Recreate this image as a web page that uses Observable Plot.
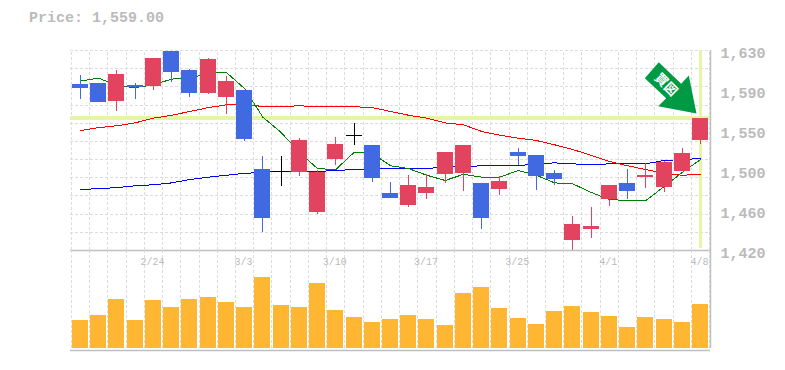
<!DOCTYPE html>
<html><head><meta charset="utf-8">
<script src="https://cdn.jsdelivr.net/npm/d3@7"></script>
<script src="https://cdn.jsdelivr.net/npm/@observablehq/plot@0.6"></script>
<style>
html,body{margin:0;padding:0;background:#fff;width:785px;height:370px;overflow:hidden}
#wrap{position:relative;width:785px;height:370px}
#title{position:absolute;left:29px;top:10px;font:bold 15px "Liberation Mono",monospace;color:#bbb;white-space:pre}
#top,#bot{position:absolute;left:0}
#top{top:0}#bot{top:250px}
svg{background:transparent!important;overflow:visible}
</style></head><body>
<div id="wrap"><div id="title">Price: 1,559.00</div><div id="top"></div><div id="bot"></div></div>
<script>
const lastPrice = 1559;
const open  = [1594,1595,1576,1593,1592,1629,1609,1585,1581,1588,1505,1503,1502,1460,1515.5,1541,1530,1480,1467,1480,1500,1501,1490,1484,1523,1520,1501,1430.5,1442,1473.5,1490,1497,1486,1503,1535.5];
const close = [1590,1575,1605,1591,1622,1607,1585,1620.5,1597,1536.5,1453.6,1503,1535.5,1502,1531,1541,1495.6,1474.6,1488,1486,1523,1530,1453.6,1492.5,1518.7,1498,1494.5,1447,1445,1488,1482,1499,1512,1522,1559];
const high  = [1604,1595,1609,1595,1622,1629,1610,1622,1603,1588,1519,1519,1537.6,1504,1538.6,1553,1530,1491,1499,1500,1523,1530,1490,1498,1527,1520,1504,1456,1465,1488,1505,1511,1513.5,1527,1559];
const low   = [1578.5,1575,1566,1578.5,1588,1596,1581,1584,1563,1534.5,1439,1487,1498,1458,1509,1530,1491,1474.6,1465,1473.5,1490,1482,1442,1478,1509,1483,1488,1419,1432.6,1466,1473.5,1485,1481,1503,1531];
const kind  = ["d","d","u","d","u","d","d","u","u","d","d","f","u","u","u","f","d","d","u","u","u","u","d","u","d","d","d","u","u","u","d","u","u","u","u"];
const ma5   = [1598,1601,1593,1591,1594,1600,1601,1606,1607,1590,1560,1544,1523,1506,1505,1523,1522,1509,1506,1499,1493.5,1500,1497,1497,1504,1499,1491,1490,1481,1473.5,1472.5,1472.5,1487,1502,1515.5];
const ma25  = [1546,1549,1551,1554,1559,1562,1566,1570,1573,1574,1571,1571,1572,1571,1571,1571,1570,1566,1562,1559,1554,1552,1545,1541,1538,1535.5,1531,1526,1520,1513.5,1509,1505,1501,1499,1500];
const ma75  = [1484,1485,1486,1488,1489,1491,1494.5,1497,1499,1501,1502,1503,1503,1503,1504,1505,1506,1506,1506,1506,1508,1508,1509,1509,1509,1511,1512,1511,1510,1511,1511,1511,1514.5,1515.5,1516.6];
const volume = [8400,9900,14700,8400,14400,12300,14700,15300,13800,12300,21300,12900,12300,19500,11400,9300,7800,8700,9900,8700,6900,16500,18300,12000,9000,7200,11100,12600,10800,9600,6300,9300,8700,7800,13200];
const dateIndex = [4,9,14,19,24,29,34];
const dateLabel = ["2/24","3/3","3/10","3/17","3/25","4/1","4/8"];
const priceTicks = [1420,1462,1504,1546,1588,1630];
const priceTickLabels = ["1,420","1,460","1,500","1,550","1,590","1,630"];

const idx = d3.range(open.length);
const halfW = 0.4387;
const C = {up:"#e2435f",down:"#4169e1",flat:"#000000",grid:"#dcdcdc",axis:"#c0c0c0",text:"#bbbbbb",lime:"#e5f5a5",vol:"#ffb733",arrow:"#009944"};
const colorOf = i => kind[i]==="u"?C.up:kind[i]==="d"?C.down:C.flat;
const xScale = {type:"linear",domain:[-0.548,34.548],range:[70,710]};
const font = '"Liberation Mono",monospace';
const vGrid = d3.range(36).map(i=>i-0.5);
const hGrid = d3.range(12).map(k=>1420+k*210/11);
const dash = "3,2";
const crisp = {shapeRendering:"crispEdges"};

// block arrow, anchored at its tip (pixels relative to the anchor)
const arrowSymbol = {draw(c){
  c.moveTo(0,0);c.lineTo(-38.3,-7.3);c.lineTo(-30.3,-15.3);c.lineTo(-51.7,-35.3);c.lineTo(-37.7,-51.3);c.lineTo(-15.3,-29.7);c.lineTo(-7.7,-38);c.closePath();
}};

const topPlot = Plot.plot({
  width:785,height:262,marginLeft:0,marginRight:0,marginTop:0,marginBottom:0,
  x:{...xScale,axis:null},
  y:{domain:[1420,1630],range:[250,50],axis:null},
  style:{fontFamily:font,background:"transparent"},
  marks:[
    Plot.ruleX(vGrid,{x:d=>d,y1:1420,y2:1630,stroke:C.grid,strokeDasharray:dash,...crisp}),
    Plot.ruleY(hGrid,{y:d=>d,x1:-0.548,x2:34.548,stroke:C.grid,strokeDasharray:dash,...crisp}),
    Plot.ruleY([lastPrice],{x1:-0.548,x2:34.548,stroke:C.lime,strokeWidth:4,...crisp}),
    Plot.ruleX([34],{y1:1422,y2:1630,stroke:C.lime,strokeWidth:3,...crisp}),
    Plot.lineY(idx,{x:i=>i,y:i=>ma75[i],stroke:"#0000ff",strokeWidth:1,...crisp}),
    Plot.lineY(idx,{x:i=>i,y:i=>ma25[i],stroke:"#ff0000",strokeWidth:1,...crisp}),
    Plot.lineY(idx,{x:i=>i,y:i=>ma5[i],stroke:"#008000",strokeWidth:1,...crisp}),
    Plot.ruleX(idx,{x:i=>i,y1:i=>low[i],y2:i=>high[i],stroke:colorOf,strokeWidth:1,...crisp}),
    Plot.rect(idx.filter(i=>kind[i]!=="f"),{x1:i=>i-halfW,x2:i=>i+halfW,y1:i=>open[i],y2:i=>close[i],fill:colorOf,...crisp}),
    Plot.ruleY(idx.filter(i=>kind[i]==="f"),{y:i=>open[i],x1:i=>i-halfW,x2:i=>i+halfW,stroke:C.flat,strokeWidth:1,...crisp}),
    Plot.ruleY([1420],{x1:-0.548,x2:34.548,stroke:C.axis,strokeWidth:1.5}),
    Plot.ruleX([34.548],{y1:1420,y2:1630,stroke:C.axis,strokeWidth:1.5}),
    Plot.dot([0],{x:()=>33.78,y:()=>1563.85,symbol:arrowSymbol,r:1,fill:C.arrow,stroke:"none"}),
    Plot.text(["\u8CB7\u56F3"],{x:()=>32.1,y:()=>1594,text:d=>d,rotate:45,fill:"#fff",fontSize:13,fontWeight:"bold",fontFamily:'"Noto Sans CJK JP"'}),
    Plot.text(priceTicks,{x:()=>34.548,y:d=>d,text:(d,k)=>priceTickLabels[k],dx:10,dy:3,textAnchor:"start",fontSize:15,fontWeight:"bold",fill:C.text,fontFamily:font})
  ]
});
document.getElementById("top").append(topPlot);

const botPlot = Plot.plot({
  width:785,height:101,marginLeft:0,marginRight:0,marginTop:0,marginBottom:0,
  x:{...xScale,axis:null},
  y:{domain:[0,29400],range:[98,0],axis:null},
  style:{fontFamily:font,background:"transparent"},
  marks:[
    Plot.ruleX(vGrid,{x:d=>d,stroke:C.grid,strokeDasharray:dash,y1:0,y2:29400,...crisp}),
    Plot.rect(idx,{x1:i=>i-halfW,x2:i=>i+halfW,y1:0,y2:i=>volume[i],fill:C.vol,...crisp}),
    Plot.text(dateIndex,{x:i=>i,text:(d,k)=>dateLabel[k],frameAnchor:"top",lineAnchor:"top",dy:7,dx:-1,fontSize:10,fill:C.text,fontFamily:font}),
    Plot.ruleX([34.548],{y1:0,y2:29400,stroke:C.axis,strokeWidth:1.5}),
    Plot.ruleY([-600],{x1:-0.548,x2:34.548,stroke:C.axis,strokeWidth:1.5})
  ]
});
document.getElementById("bot").append(botPlot);
</script></body></html>
